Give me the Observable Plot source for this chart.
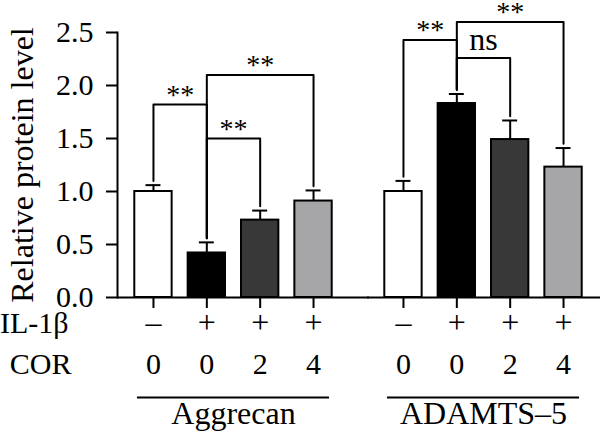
<!DOCTYPE html>
<html>
<head>
<meta charset="utf-8">
<script src="https://cdn.jsdelivr.net/npm/d3@7"></script>
<script src="https://cdn.jsdelivr.net/npm/@observablehq/plot@0.6"></script>
<style>
  html, body { margin: 0; padding: 0; background: #ffffff; }
</style>
</head>
<body>
<div id="chart"></div>
<script>
// ---------- data ----------
const groups = ["Aggrecan", "ADAMTS–5"];
const conditions = ["IL-1β− COR 0", "IL-1β+ COR 0", "IL-1β+ COR 2", "IL-1β+ COR 4"];
const il1bLabels = ["–", "+", "+", "+"];
const corLabels = ["0", "0", "2", "4"];
const aggrecanMean = [1.00, 0.42, 0.73, 0.91];
const aggrecanErr  = [0.06, 0.10, 0.09, 0.10];
const adamtsMean   = [1.00, 1.83, 1.49, 1.23];
const adamtsErr    = [0.10, 0.09, 0.18, 0.18];
const barFills = ["#ffffff", "#000000", "#383838", "#a6a6a8"];
const yTicks = [0, 0.5, 1.0, 1.5, 2.0, 2.5];
// significance brackets
const sigGroup  = [0, 0, 0, 1, 1, 1];
const sigFrom   = [0, 1, 1, 0, 1, 1];
const sigTo     = [1, 3, 2, 1, 3, 2];
const sigHeight = [1.82, 2.10, 1.50, 2.43, 2.60, 2.26];
const sigLabel  = ["**", "**", "**", "**", "**", "ns"];

// ---------- style constants ----------
const barHalf = 0.35, capHalf = 0.14, legGap = 0.04, lineOverhang = 0.3;

// ---------- derived tables ----------
const means = [aggrecanMean, adamtsMean];
const errs = [aggrecanErr, adamtsErr];
const rows = groups.flatMap((g, gi) => conditions.map((c, i) => ({
  group: g, condition: c, i, mean: means[gi][i], err: errs[gi][i],
  il: il1bLabels[i], cor: corLabels[i]
})));
const legBottom = (gi, i) => means[gi][i] + errs[gi][i] + legGap;
const sig = sigGroup.map((gi, k) => ({
  id: k, group: groups[gi], from: sigFrom[k], to: sigTo[k], h: sigHeight[k], label: sigLabel[k],
  mid: (sigFrom[k] + sigTo[k]) / 2
}));
const sigPaths = sig.flatMap((s, k) => {
  const gi = sigGroup[k];
  return [
    {id: k, group: s.group, x: s.from, y: legBottom(gi, s.from)},
    {id: k, group: s.group, x: s.from, y: s.h},
    {id: k, group: s.group, x: s.to, y: s.h},
    {id: k, group: s.group, x: s.to, y: legBottom(gi, s.to)}
  ];
});
const idx = conditions.map((_, i) => i);

const chart = Plot.plot({
  width: 600,
  height: 439,
  marginTop: 32,
  marginBottom: 142,
  marginLeft: 117,
  marginRight: 1,
  style: "font-family: 'Liberation Serif', 'Times New Roman', serif; font-size: 30px; color: #000; background: #fff;",
  fx: {domain: groups, paddingInner: 0.072, paddingOuter: 0, axis: null, label: null},
  x: {domain: [-0.674, 3.674], axis: null},
  y: {domain: [0, 2.5], axis: null},
  color: {domain: conditions, range: barFills},
  marks: [
    // bars
    Plot.rectY(rows, {fx: "group", x1: d => d.i - barHalf, x2: d => d.i + barHalf, y1: 0, y2: "mean",
      fill: "condition", stroke: "#000", strokeWidth: 2}),
    // error bars
    Plot.ruleX(rows, {fx: "group", x: "i", y1: "mean", y2: d => d.mean + d.err, stroke: "#000", strokeWidth: 2}),
    Plot.ruleY(rows, {fx: "group", x1: d => d.i - capHalf, x2: d => d.i + capHalf, y: d => d.mean + d.err,
      stroke: "#000", strokeWidth: 2}),
    // significance brackets
    Plot.line(sigPaths, {fx: "group", x: "x", y: "y", z: "id", stroke: "#000", strokeWidth: 2, curve: "linear"}),
    Plot.text(sig.filter(s => s.label === "**"), {fx: "group", x: "mid", y: "h", text: "label",
      lineAnchor: "bottom", dy: -1, fontSize: 28}),
    Plot.text(sig.filter(s => s.label !== "**"), {fx: "group", x: "mid", y: "h", text: "label",
      lineAnchor: "bottom", dy: -8, fontSize: 32}),
    // axes
    Plot.ruleY([0], {stroke: "#000", strokeWidth: 2, insetRight: -20}),
    Plot.frame({anchor: "left", facetAnchor: "left", stroke: "#000", strokeWidth: 2}),
    Plot.axisY(yTicks, {tickSize: 11, tickPadding: 13, tickFormat: d3.format(".1f"), strokeWidth: 2,
      fontSize: 30, label: null}),
    Plot.axisY({ticks: [], tickSize: 0, label: "Relative protein level", labelAnchor: "center",
      labelOffset: 107, labelArrow: "none", fontSize: 32}),
    Plot.axisX(idx, {tickSize: 11, tickFormat: () => "", strokeWidth: 2, label: null}),
    // condition rows
    Plot.text(rows, {fx: "group", x: "i", text: "il", frameAnchor: "bottom", dy: 35, fontSize: 32}),
    Plot.text(rows, {fx: "group", x: "i", text: "cor", frameAnchor: "bottom", dy: 76, fontSize: 30}),
    Plot.text(["IL-1β"], {fx: [groups[0]], frameAnchor: "bottom-left", textAnchor: "end", dx: -49, dy: 35, fontSize: 30}),
    Plot.text(["COR"], {fx: [groups[0]], frameAnchor: "bottom-left", textAnchor: "end", dx: -46, dy: 76, fontSize: 30}),
    // group underline + labels
    Plot.ruleY(groups, {fx: d => d, y: 0, x1: -lineOverhang, x2: conditions.length - 1 + lineOverhang,
      dy: 100, stroke: "#000", strokeWidth: 2}),
    Plot.text(groups, {fx: d => d, text: d => d, frameAnchor: "bottom", dy: 126, fontSize: 32})
  ]
});
document.getElementById("chart").appendChild(chart);
</script>
</body>
</html>
